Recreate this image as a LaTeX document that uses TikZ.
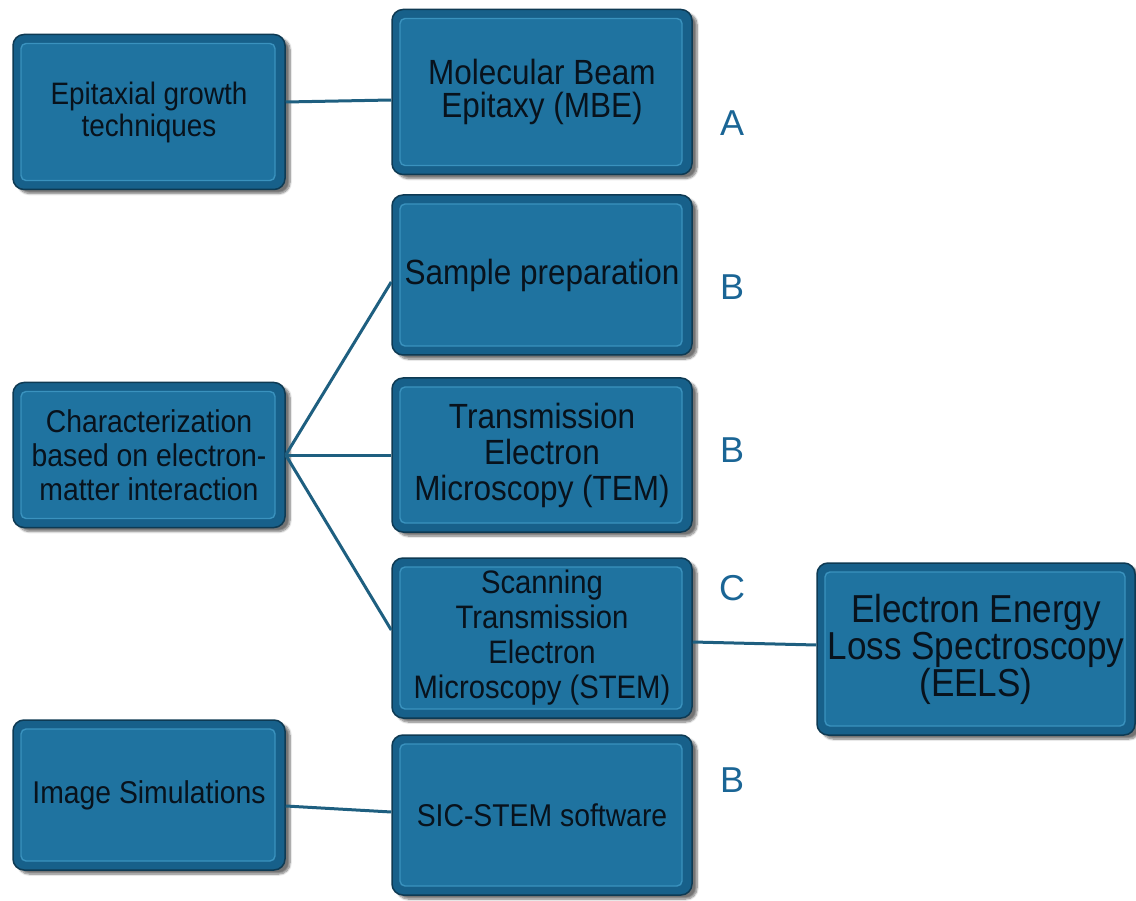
\documentclass[tikz,border=0pt]{standalone}
\usepackage{fontspec}
\setmainfont{Liberation Sans}
\newfontfamily\narrowfont[FakeStretch=0.9]{Liberation Sans}
\usetikzlibrary{shadows.blur}
\definecolor{boxrim}{HTML}{17608A}
\definecolor{boxfill}{HTML}{1F73A0}
\definecolor{boxhi}{HTML}{3A92BE}
\definecolor{linec}{HTML}{1E5F80}
\definecolor{labc}{HTML}{1A6595}
\definecolor{txtc}{HTML}{08121C}
\newcommand{\fs}[2]{\narrowfont\fontsize{#1}{#2}\selectfont}
\tikzset{
  bbox/.style={rounded corners=11pt, fill=boxrim, draw=boxrim!60!black, line width=1.5pt,
    blur shadow={shadow xshift=5pt, shadow yshift=-4pt, shadow blur steps=8, shadow opacity=55},
    path picture={\draw[boxhi, fill=boxfill, line width=1.4pt, rounded corners=5pt]
      ([shift={(8pt,-9pt)}]path picture bounding box.north west) rectangle
      ([shift={(-10pt,9pt)}]path picture bounding box.south east);},
    text=txtc, align=center, inner sep=0pt},
  lab/.style={text=labc, font=\setmainfont{Liberation Sans}\fontsize{36}{40}\selectfont, inner sep=0pt},
  conn/.style={draw=linec, line width=3pt}
}
\begin{document}
\begin{tikzpicture}[x=1pt,y=-1pt]
\useasboundingbox (0,0) rectangle (1136,901);
\node[bbox, minimum width=272pt, minimum height=155pt, font=\fs{31}{32}] (epi) at (149,112) {Epitaxial growth\\techniques};
\node[bbox, minimum width=300pt, minimum height=165pt, font=\fs{35}{33}] (mbe) at (542,92) {Molecular Beam\\Epitaxy (MBE)};
\node[bbox, minimum width=300pt, minimum height=160pt, font=\fs{35}{34}] (samp) at (542,275) {Sample preparation};
\node[bbox, minimum width=272pt, minimum height=145pt, font=\fs{31.5}{34}] (char) at (149,455) {Characterization\\based on electron-\\matter interaction};
\node[bbox, minimum width=300pt, minimum height=154pt, font=\fs{35}{36}] (tem) at (542,455) {Transmission\\Electron\\Microscopy (TEM)};
\node[bbox, minimum width=300pt, minimum height=160pt, font=\fs{32.5}{35}] (stem) at (542,638) {Scanning\\Transmission\\Electron\\Microscopy (STEM)};
\node[bbox, minimum width=318pt, minimum height=172pt, font=\fs{39}{37}] (eels) at (976,649) {Electron Energy\\Loss Spectroscopy\\(EELS)};
\node[bbox, minimum width=272pt, minimum height=150pt, font=\fs{31.5}{34}] (sim) at (149,795) {Image Simulations};
\node[bbox, minimum width=300pt, minimum height=160pt, font=\fs{31.5}{34}] (sic) at (542,815) {SIC-STEM software};
\draw[conn] ([yshift=10pt]epi.east) -- ([yshift=-8pt]mbe.west);
\draw[conn] (char.east) -- ([yshift=-7pt]samp.west);
\draw[conn] (char.east) -- (tem.west);
\draw[conn] (char.east) -- ([yshift=8pt]stem.west);
\draw[conn] ([yshift=-4pt]stem.east) -- ([yshift=4pt]eels.west);
\draw[conn] ([yshift=-11pt]sim.east) -- ([yshift=3pt]sic.west);
\node[lab] (la) at (732,123) {A};
\node[lab] (lb1) at (732,287) {B};
\node[lab] (lb2) at (732,450) {B};
\node[lab] (lc) at (732,588) {C};
\node[lab] (lb3) at (732,780) {B};
\end{tikzpicture}
\end{document}
